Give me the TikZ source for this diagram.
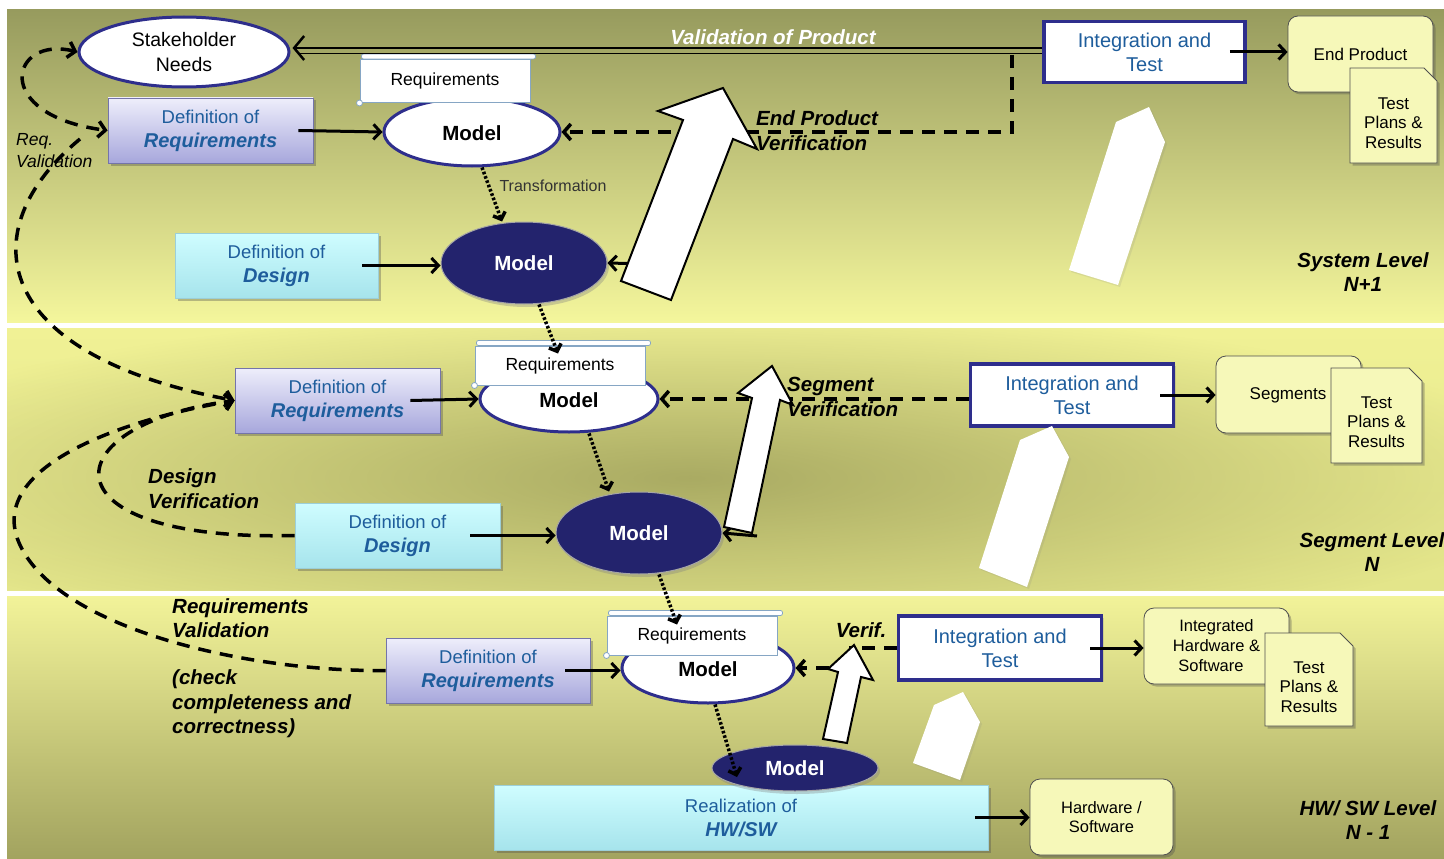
\documentclass[tikz,border=0pt]{standalone}
\usepackage{fontspec}
\setmainfont{Liberation Sans}
\usetikzlibrary{shapes.geometric,arrows.meta,shadows,fadings}

\definecolor{bandTop}{HTML}{979B5E}
\definecolor{bandPale}{HTML}{F4F69C}
\definecolor{bandMid}{HTML}{F0F195}
\definecolor{bandMidLow}{HTML}{E3E58A}
\definecolor{haze}{HTML}{9A9B58}
\definecolor{bandLowTop}{HTML}{F2F399}
\definecolor{bandLow}{HTML}{A2A35F}
\definecolor{navyLine}{HTML}{2E2E8C}
\definecolor{modelDark}{HTML}{23236D}
\definecolor{txtBlue}{HTML}{1E5D9C}
\definecolor{reqTop}{HTML}{EEEEFB}
\definecolor{reqBot}{HTML}{A7A7DC}
\definecolor{reqEdge}{HTML}{7474AA}
\definecolor{desTop}{HTML}{CFFDFF}
\definecolor{desBot}{HTML}{A6E4EC}
\definecolor{desEdge}{HTML}{9CCFD8}
\definecolor{noteFill}{HTML}{F6F8B9}
\definecolor{noteEdge}{HTML}{505050}
\definecolor{scrollEdge}{HTML}{86A6C4}

\pgfdeclarelayer{bg}
\pgfdeclarelayer{fg}
\pgfsetlayers{bg,main,fg}

\tikzfading[name=hazefade, inner color=transparent!0, outer color=transparent!100]

\newcommand\dgLab{\fontsize{20.5}{24.5}\selectfont\bfseries\itshape}
\newcommand\dgBox{\fontsize{18.5}{24}\selectfont}
\newcommand\dgEm{\fontsize{20}{24}\selectfont\bfseries\itshape}
\newcommand\dgNote{\fontsize{17}{19.5}\selectfont}

\tikzset{
  boxshadow/.style={drop shadow={shadow xshift=2.5pt, shadow yshift=-2.5pt, opacity=0.35, fill=black!70}},
  reqbox/.style={rectangle, inner sep=0pt, draw=reqEdge, line width=0.8pt,
    top color=reqTop, bottom color=reqBot, text=txtBlue, align=center, font=\dgBox, boxshadow},
  desbox/.style={rectangle, inner sep=0pt, draw=desEdge, line width=0.6pt,
    top color=desTop, bottom color=desBot, text=txtBlue, align=center, font=\dgBox, boxshadow},
  itbox/.style={rectangle, inner sep=0pt, fill=white, draw=navyLine, line width=3.5pt,
    text=txtBlue, align=center, font=\fontsize{20}{24}\selectfont,
    drop shadow={shadow xshift=2pt, shadow yshift=-2pt, opacity=0.25}},
  wmodel/.style={ellipse, inner sep=0pt, fill=white, draw=navyLine, line width=3pt},
  modeltext/.style={font=\fontsize{20.5}{24}\selectfont\bfseries, inner sep=0pt},
  dmodel/.style={ellipse, inner sep=0pt, fill=modelDark, draw=black!35, line width=1pt,
    text=white, font=\fontsize{20.5}{24}\selectfont\bfseries,
    drop shadow={shadow xshift=2pt, shadow yshift=-3pt, opacity=0.35}},
  note/.style={rectangle, rounded corners=10pt, inner sep=0pt, fill=noteFill, draw=noteEdge,
    line width=0.8pt, align=center, font=\dgNote, boxshadow},
  docshape/.style={fill=noteFill, draw=noteEdge, line width=0.8pt, line join=miter, boxshadow},
  doctext/.style={align=center, inner sep=0pt, font=\dgNote},
  scroll/.style={rectangle, inner sep=0pt, fill=white, draw=scrollEdge, line width=1pt,
    font=\fontsize{17.5}{20}\selectfont},
  scrollbar/.style={fill=white, draw=scrollEdge, line width=0.8pt, rounded corners=2pt},
  lab/.style={font=\dgLab, align=left, inner sep=0pt},
  conn/.style={line width=3pt, -{Straight Barb[length=7pt,width=15pt]}},
  dotconn/.style={line width=3.5pt, dash pattern=on 2.6pt off 2pt,
    -{Straight Barb[length=6pt,width=13pt]}},
  dashconn/.style={line width=3.5pt, dash pattern=on 13pt off 9pt,
    -{Straight Barb[length=7pt,width=16pt]}},
  dashline/.style={line width=3.5pt, dash pattern=on 13pt off 9pt},
  bigarrow/.style={fill=white, draw=black, line width=2pt, line join=miter},
  ghostarrow/.style={fill=white,
    drop shadow={shadow xshift=2pt, shadow yshift=-2pt, opacity=0.15}},
}

\begin{document}
\begin{tikzpicture}[x=1pt,y=-1pt]
\useasboundingbox (0,0) rectangle (1444,859);

% ---------- level bands ----------
\begin{pgfonlayer}{bg}
  \fill[white] (0,0) rectangle (1444,859);
  \shade[top color=bandTop, bottom color=bandPale] (7,10) rectangle (1444,322);
  \begin{scope}
    \clip (7,328) rectangle (1444,590);
    \shade[top color=bandMid, bottom color=bandMidLow] (7,328) rectangle (1444,590);
    \fill[haze, path fading=hazefade, fill opacity=0.8] (690,478) ellipse (880 and 170);
  \end{scope}
  \shade[top color=bandLowTop, bottom color=bandLow] (7,596) rectangle (1444,859);
\end{pgfonlayer}

% ---------- system level N+1 ----------
\node[ellipse, inner sep=0pt, fill=white, draw=navyLine, line width=3pt,
      minimum width=210pt, minimum height=70pt, align=center,
      font=\fontsize{19.5}{25}\selectfont] (stake) at (184,52) {Stakeholder\\Needs};
\node[itbox, minimum width=201pt, minimum height=61pt] (it1) at (1144.5,52) {Integration and\\Test};
\node[note, minimum width=145pt, minimum height=76pt] (ep) at (1360.5,54) {End Product};
\path[docshape] (1350,68) -- (1424,68) -- (1437,81) -- (1437,163) -- (1350,163) -- cycle;
\node[doctext] (tp1) at (1393.5,123) {Test\\Plans \&\\Results};

\node[reqbox, minimum width=205pt, minimum height=65pt] (dr1) at (210.5,130.5)
  {Definition of\\{\dgEm Requirements}};
\node[wmodel, minimum width=176pt, minimum height=68pt] (m1) at (472,132) {};
\node[scroll, minimum width=170pt, minimum height=43pt] (rq1) at (445,81) {Requirements};
\draw[scrollbar] ([xshift=2pt,yshift=5pt]rq1.north west) rectangle ([xshift=5pt]rq1.north east);
\draw[scrollbar, rounded corners=0pt] (rq1.south west) circle (3pt);
\node[modeltext] (m1t) at (472,133) {Model};
\node[dmodel, minimum width=166pt, minimum height=82pt] (md1) at (524,263) {Model};
\node[desbox, minimum width=203pt, minimum height=65pt] (dd1) at (276.5,265.5)
  {Definition of\\{\dgEm Design}};

\node[font=\fontsize{16}{19}\selectfont, text=black!80] (trf) at (553,186) {Transformation};
\node[lab, text=white] (vop) at (773,37) {Validation of Product};
\node[lab, align=center] (sysl) at (1363,272) {System Level\\N+1};
\node[font=\fontsize{17.5}{22}\selectfont\itshape, align=left, inner sep=0pt, anchor=west]
  (rvl) at (16,151) {Req.\\Validation};

% ---------- segment level N ----------
\node[reqbox, minimum width=205pt, minimum height=65pt] (dr2) at (337.5,400.5)
  {Definition of\\{\dgEm Requirements}};
\node[wmodel, minimum width=178pt, minimum height=66pt] (m2) at (569,399) {};
\node[scroll, minimum width=170pt, minimum height=39pt] (rq2) at (560,365.5) {Requirements};
\draw[scrollbar] ([xshift=2pt,yshift=5pt]rq2.north west) rectangle ([xshift=5pt]rq2.north east);
\draw[scrollbar, rounded corners=0pt] (rq2.south west) circle (3pt);
\node[modeltext] (m2t) at (569,400) {Model};
\node[dmodel, minimum width=166pt, minimum height=82pt] (md2) at (639,533) {Model};
\node[desbox, minimum width=205pt, minimum height=65pt] (dd2) at (397.5,535.5)
  {Definition of\\{\dgEm Design}};
\node[itbox, minimum width=203pt, minimum height=62pt] (it2) at (1072,395) {Integration and\\Test};
\node[note, minimum width=145pt, minimum height=77pt] (seg) at (1288.5,394.5) {};
\node[doctext] (segt) at (1288,395) {Segments};
\path[docshape] (1331,368) -- (1409,368) -- (1422,381) -- (1422,463) -- (1331,463) -- cycle;
\node[doctext] (tp2) at (1376.5,422) {Test\\Plans \&\\Results};

\node[lab, align=center] (segl) at (1372,552) {Segment Level\\N};
\node[lab, anchor=west] (dvl) at (148,488.5) {Design\\Verification};

% ---------- HW/SW level N-1 ----------
\node[reqbox, minimum width=204pt, minimum height=65pt] (dr3) at (488,670.5)
  {Definition of\\{\dgEm Requirements}};
\node[wmodel, minimum width=172pt, minimum height=70pt] (m3) at (708,668) {};
\node[scroll, minimum width=170pt, minimum height=39pt] (rq3) at (692,635.5) {Requirements};
\draw[scrollbar] ([xshift=2pt,yshift=5pt]rq3.north west) rectangle ([xshift=5pt]rq3.north east);
\draw[scrollbar, rounded corners=0pt] (rq3.south west) circle (3pt);
\node[modeltext] (m3t) at (708,669) {Model};
\node[desbox, minimum width=494pt, minimum height=65pt] (rz) at (741,817.5)
  {Realization of\\{\dgEm HW/SW}};
\node[dmodel, minimum width=166pt, minimum height=46pt] (md3) at (795,768) {Model};
\node[itbox, minimum width=203pt, minimum height=64pt] (it3) at (1000,648) {Integration and\\Test};
\node[note, minimum width=145pt, minimum height=76pt, font=\fontsize{16.5}{20}\selectfont]
  (ihs) at (1216.5,646) {Integrated\\Hardware \&\\Software\phantom{\&}};
\path[docshape] (1265,633) -- (1340,633) -- (1353,646) -- (1353,726) -- (1265,726) -- cycle;
\node[doctext] (tp3) at (1309,687) {Test\\Plans \&\\Results};
\node[note, minimum width=143pt, minimum height=76pt, font=\fontsize{16.5}{19.5}\selectfont]
  (hs) at (1101.5,817) {Hardware /\\Software};

\node[lab, align=center] (hwl) at (1368,820) {HW/ SW Level\\N - 1};
\node[lab, anchor=west] (rvl2) at (172,618) {Requirements\\Validation};
\node[lab, anchor=west] (ccl) at (172,704) {(check\\completeness and\\correctness)};

% ---------- solid flow arrows ----------
\draw[conn] ([xshift=-15pt]dr1.east) -- (m1.west);
\draw[conn] ([xshift=-16pt]dd1.east) -- (md1.west |- dd1.east);
\draw[conn] ([xshift=-30pt]dr2.east) -- (m2.west);
\draw[conn] ([xshift=-30pt]dd2.east) -- (md2.west |- dd2.east);
\draw[conn] ([xshift=-25pt]dr3.east) -- (m3.west |- dr3.east);
\draw[conn] ([xshift=-17pt]it1.east) -- (ep.west |- it1.east);
\draw[conn] ([xshift=-15pt]it2.east) -- (seg.west |- it2.east);
\draw[conn] ([xshift=-13pt]it3.east) -- (ihs.west |- it3.east);
\draw[conn] ([xshift=-13pt]rz.east) -- (hs.west |- rz.east);

% ---------- model transformations ----------
\draw[dotconn] ([xshift=10pt]m1.south) -- ([xshift=-22pt]md1.north);
\draw[dotconn] ([xshift=15pt]md1.south) -- ([xshift=-2pt,yshift=-8pt]rq2.north);
\draw[dotconn] ([xshift=20pt]m2.south) -- ([xshift=-30pt]md2.north);
\draw[dotconn] ([xshift=20pt]md2.south) -- ([xshift=-15pt,yshift=-9pt]rq3.north);
\draw[dotconn] ([xshift=7pt]m3.south) -- ([xshift=-58pt,yshift=-9pt]md3.center);

% ---------- validation of product ----------
\draw[line width=2.5pt, -{Straight Barb[length=10pt,width=24pt]}]
  ([yshift=4pt]it1.west) -- ([yshift=4pt,xshift=2pt]stake.east);
\draw[line width=1.3pt] ([yshift=-1.5pt]it1.west) -- ([yshift=-1.5pt,xshift=8pt]stake.east);

% ---------- verification loops ----------
\coordinate (epvTop) at (1012,55);
\draw[dashconn] (epvTop) |- (m1.east);
\coordinate (md1in) at (650,264);
\draw[conn] (md1in) -- (md1.east);
\draw[dashconn] (it2.west |- m2.east) -- (m2.east);
\coordinate (md2in) at (757,536);
\draw[conn] (md2in) -- (md2.east);
\draw[dashconn] (it3.west) -- ++(-46,0) |- (m3.east);

% ---------- requirement / design validation loops ----------
\draw[dashline, {Straight Barb[length=7pt,width=16pt]}-{Straight Barb[length=7pt,width=16pt]}]
  (stake.west) .. controls (10,35) and (-10,115) .. (dr1.west);
\coordinate (rvStart) at (80,139);
\draw[dashconn] (rvStart) .. controls (-30,230) and (-10,355) .. (dr2.west);
\draw[dashconn] (dd2.west) .. controls (40,542) and (50,425) .. (dr2.west);
\draw[dashconn] (dr3.west) .. controls (250,672) and (60,630) .. (20,545)
  .. controls (-16,468) and (120,420) .. (dr2.west);

% ---------- up-going arrows ----------
\begin{pgfonlayer}{fg}
  \draw[bigarrow] (723,88) -- (658,111) -- (683,120) -- (621,281) -- (671,300)
    -- (733,139) -- (757,149) -- cycle;
  \draw[bigarrow] (772,366) -- (738,393) -- (752,398) -- (724,527) -- (752,533)
    -- (780,400) -- (793,405) -- cycle;
  \draw[bigarrow] (854,645) -- (828,669) -- (838,672) -- (823,739) -- (847,743)
    -- (861,677) -- (873,680) -- cycle;
  \path[ghostarrow] (1069,270) -- (1116,122) -- (1149,107) -- (1165,142) -- (1118,285) -- cycle;
  \path[ghostarrow] (979,568) -- (1020,440) -- (1052,426) -- (1069,457) -- (1027,587) -- cycle;
  \path[ghostarrow] (913,763) -- (934,705) -- (963,692) -- (980,722) -- (960,780) -- cycle;

  \node[lab, anchor=west] (epvl) at (756,130.5) {End Product\\Verification};
  \node[lab, anchor=west] (svl) at (787,397) {Segment\\Verification};
  \node[lab] (vfl) at (861,630) {Verif.};
\end{pgfonlayer}
\end{tikzpicture}
\end{document}
